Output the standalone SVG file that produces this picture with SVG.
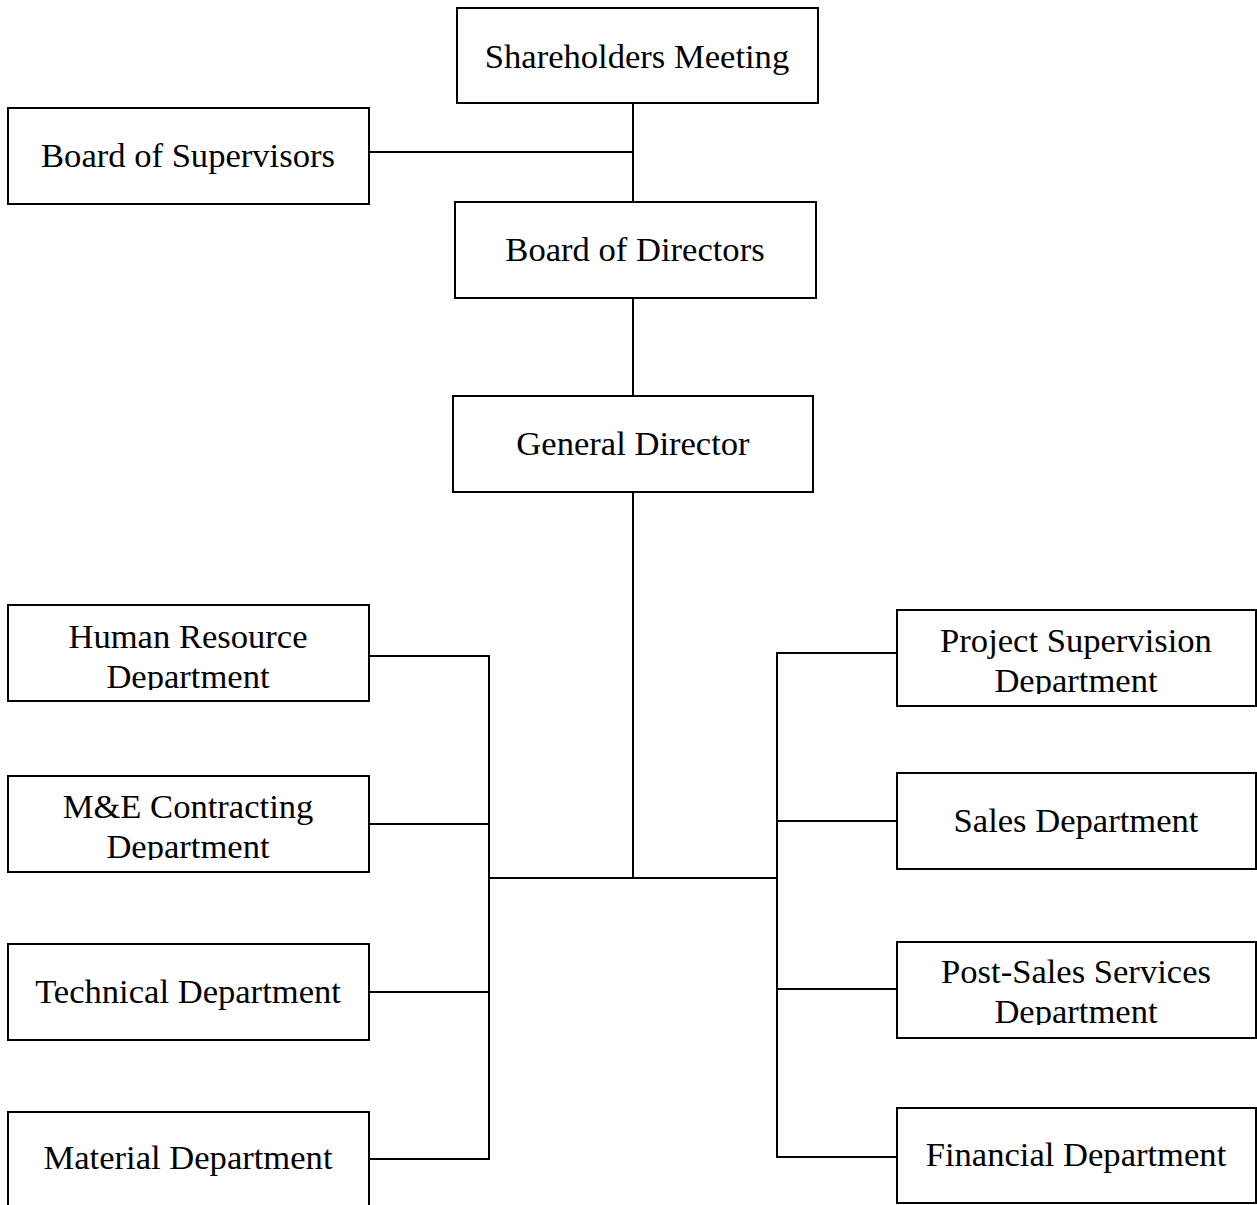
<svg xmlns="http://www.w3.org/2000/svg" width="1257" height="1205" viewBox="0 0 1257 1205">
<style>
.box{fill:#fff;stroke:#000;stroke-width:2}
.lbl{font-family:"Liberation Serif","Times New Roman",serif;font-size:34.6px;fill:#000;text-anchor:middle}
.con{fill:none;stroke:#000;stroke-width:2}
</style>
<defs>
<clipPath id="cHR"><rect x="0" y="600" width="400" height="90"/></clipPath>
<clipPath id="cME"><rect x="0" y="770" width="400" height="90"/></clipPath>
<clipPath id="cPS"><rect x="890" y="605" width="367" height="89"/></clipPath>
<clipPath id="cPSS"><rect x="890" y="935" width="367" height="90"/></clipPath>
</defs>
<rect width="1257" height="1205" fill="#fff"/>
<g id="connectors">
<path class="con" d="M633 103V202"/>
<path class="con" d="M369 152H633"/>
<path class="con" d="M633 298V396"/>
<path class="con" d="M633 492V878"/>
<path class="con" d="M489 878H777"/>
<path class="con" d="M369 656H489V1159H369"/>
<path class="con" d="M369 824H489"/>
<path class="con" d="M369 992H489"/>
<path class="con" d="M897 653H777V1157H897"/>
<path class="con" d="M777 821H897"/>
<path class="con" d="M777 989H897"/>
</g>
<g id="shareholders">
<rect class="box" x="457" y="8" width="361" height="95"/>
<text class="lbl" x="637" y="68">Shareholders Meeting</text>
</g>
<g id="supervisors">
<rect class="box" x="8" y="108" width="361" height="96"/>
<text class="lbl" x="188" y="167">Board of Supervisors</text>
</g>
<g id="directors">
<rect class="box" x="455" y="202" width="361" height="96"/>
<text class="lbl" x="635" y="261">Board of Directors</text>
</g>
<g id="general">
<rect class="box" x="453" y="396" width="360" height="96"/>
<text class="lbl" x="633" y="455">General Director</text>
</g>
<g id="hr">
<rect class="box" x="8" y="605" width="361" height="96"/>
<g clip-path="url(#cHR)">
<text class="lbl" x="188" y="648">Human Resource</text>
<text class="lbl" x="188" y="688">Department</text>
</g>
</g>
<g id="me">
<rect class="box" x="8" y="776" width="361" height="96"/>
<g clip-path="url(#cME)">
<text class="lbl" x="188" y="818">M&amp;E Contracting</text>
<text class="lbl" x="188" y="858">Department</text>
</g>
</g>
<g id="technical">
<rect class="box" x="8" y="944" width="361" height="96"/>
<text class="lbl" x="188" y="1003">Technical Department</text>
</g>
<g id="material">
<rect class="box" x="8" y="1112" width="361" height="98"/>
<text class="lbl" x="188" y="1169">Material Department</text>
</g>
<g id="project">
<rect class="box" x="897" y="610" width="359" height="96"/>
<g clip-path="url(#cPS)">
<text class="lbl" x="1076" y="652">Project Supervision</text>
<text class="lbl" x="1076" y="692">Department</text>
</g>
</g>
<g id="sales">
<rect class="box" x="897" y="773" width="359" height="96"/>
<text class="lbl" x="1076" y="832">Sales Department</text>
</g>
<g id="postsales">
<rect class="box" x="897" y="942" width="359" height="96"/>
<g clip-path="url(#cPSS)">
<text class="lbl" x="1076" y="983">Post-Sales Services</text>
<text class="lbl" x="1076" y="1023">Department</text>
</g>
</g>
<g id="financial">
<rect class="box" x="897" y="1108" width="359" height="95"/>
<text class="lbl" x="1076" y="1166">Financial Department</text>
</g>
</svg>
